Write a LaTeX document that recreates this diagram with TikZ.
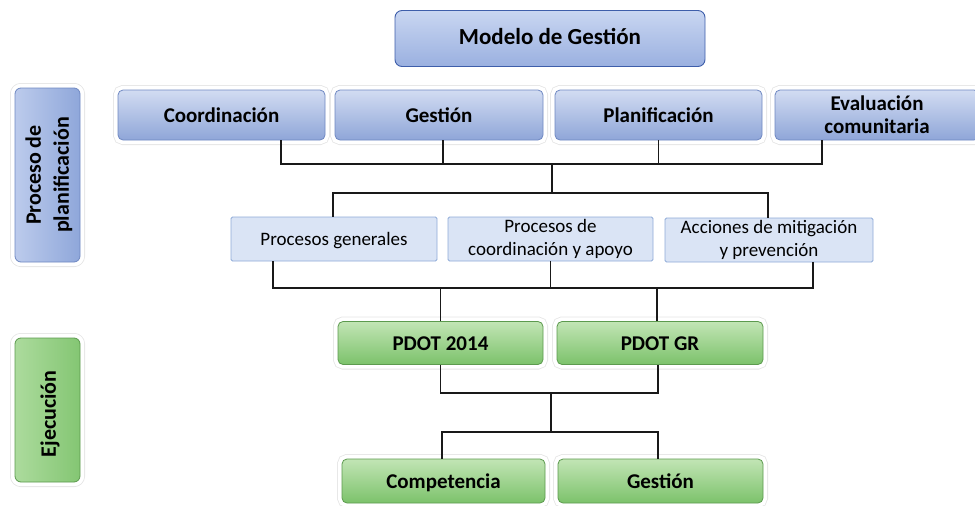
\documentclass[tikz,border=0pt]{standalone}
\usepackage{fontspec}
\setmainfont{Carlito}
\definecolor{topA}{HTML}{D2DCF2}
\definecolor{topB}{HTML}{8FA6D8}
\definecolor{topE}{HTML}{6F88C2}
\definecolor{modA}{HTML}{C9D6F1}
\definecolor{modB}{HTML}{9AB0E0}
\definecolor{modE}{HTML}{3E5EAA}
\definecolor{midF}{HTML}{DAE4F5}
\definecolor{midE}{HTML}{8EAAD8}
\definecolor{grA}{HTML}{C2E5B5}
\definecolor{grB}{HTML}{7CC26B}
\definecolor{grE}{HTML}{5C9A4E}
\definecolor{barA}{HTML}{BCCBEC}
\definecolor{barB}{HTML}{8FA7DA}
\definecolor{gbarA}{HTML}{ACDB9D}
\definecolor{gbarB}{HTML}{84C673}
\begin{document}
\begin{tikzpicture}[x=1pt,y=-1pt,
  glow/.style={preaction={draw=black!10,line width=10pt},preaction={draw=white,line width=8.4pt}},
  oneline/.style={text height=17pt,text depth=2pt},
  midline/.style={text height=15pt,text depth=3pt},
  topbox/.style={glow,rounded corners=5pt,draw=topE,line width=0.8pt,top color=topA,bottom color=topB,
     minimum height=50pt,inner sep=0pt,align=center,font=\bfseries\fontsize{21}{23}\selectfont},
  modbox/.style={rounded corners=7pt,draw=modE,line width=0.9pt,top color=modA,bottom color=modB,
     minimum width=310pt,minimum height=56pt,inner sep=0pt,text height=13pt,text depth=2pt,
     font=\bfseries\fontsize{23}{25}\selectfont},
  midbox/.style={rounded corners=1.5pt,draw=midE,line width=0.9pt,fill=midF,minimum height=44pt,
     inner sep=0pt,align=center,font=\fontsize{19}{23}\selectfont},
  grbox/.style={glow,rounded corners=5pt,draw=grE,line width=0.8pt,top color=grA,bottom color=grB,
     minimum height=43pt,inner sep=0pt,align=center,oneline,font=\bfseries\fontsize{21}{23}\selectfont},
  bluebar/.style={glow,rounded corners=6pt,draw=topE,line width=0.8pt,left color=barA,right color=barB,
     minimum width=65pt,minimum height=174pt,inner sep=0pt},
  greenbar/.style={glow,rounded corners=6pt,draw=grE,line width=0.8pt,left color=gbarA,right color=gbarB,
     minimum width=65pt,minimum height=144pt,inner sep=0pt},
  vlabel/.style={rotate=90,align=center,inner sep=0pt,font=\bfseries\fontsize{22}{28}\selectfont},
  conn/.style={draw=black!90,line width=1.7pt}]
\useasboundingbox (0,0) rectangle (975,506);

% left bars
\node[bluebar] (lb1) at (47.5,175) {};
\node[vlabel] (lt1) at (49,175) {Proceso de\\planificación};
\node[greenbar] (lb2) at (47.5,410) {};
\node[vlabel] (lt2) at (50,414) {Ejecución};

% top
\node[modbox] (mg) at (550,38.5) {Modelo de Gestión};

% row 2
\node[topbox,oneline,minimum width=207pt] (c1) at (221.5,115) {Coordinación};
\node[topbox,oneline,minimum width=208pt] (c2) at (439,115) {Gestión};
\node[topbox,oneline,minimum width=207pt] (c3) at (658.5,115) {Planificación};
\node[topbox,minimum width=204pt] (c4) at (877,115) {Evaluación\\comunitaria};

% row 3
\node[midbox,midline,minimum width=206pt] (p1) at (334,239) {Procesos generales};
\node[midbox,minimum width=205pt] (p2) at (550.5,239) {Procesos de\\coordinación y apoyo};
\node[midbox,minimum width=208pt] (p3) at (769,240) {Acciones de mitigación\\y prevención};

% row 4
\node[grbox,minimum width=205pt] (d1) at (440.5,343) {PDOT 2014};
\node[grbox,minimum width=206pt] (d2) at (660,343) {PDOT GR};

% row 5
\node[grbox,minimum width=203pt,minimum height=44pt] (e1) at (443.5,481) {Competencia};
\node[grbox,minimum width=205pt,minimum height=44pt] (e2) at (660.5,481) {Gestión};

% connectors
\coordinate (b1) at (552,164);
\coordinate (b2) at (552,193);
\coordinate (b3) at (551,288);
\coordinate (b4) at (551,393);
\coordinate (b5) at (551,432);

\draw[conn] ([xshift=59.5pt]c1.south) |- (b1) -| ([xshift=-55pt]c4.south);
\draw[conn] ([xshift=4pt]c2.south) -- ([xshift=4pt]c2.south |- b1);
\draw[conn] (c3.south) -- (c3.south |- b1);
\draw[conn] (b1) -- (b2);
\draw[conn] ([xshift=-1pt]p1.north) |- (b2) -| ([xshift=-1pt]p3.north);

\draw[conn] ([xshift=-61pt]p1.south) |- (b3) -| ([xshift=44pt]p3.south);
\draw[conn] (p2.south) -- (p2.south |- b3);
\draw[conn] (d1.north) -- (d1.north |- b3);
\draw[conn] ([xshift=-3pt]d2.north) -- ([xshift=-3pt]d2.north |- b3);

\draw[conn] (d1.south) |- (b4) -| ([xshift=-2pt]d2.south);
\draw[conn] (b4) -- (b5);
\draw[conn] ([xshift=-1.5pt]e1.north) |- (b5) -| ([xshift=-2.5pt]e2.north);
\end{tikzpicture}
\end{document}
